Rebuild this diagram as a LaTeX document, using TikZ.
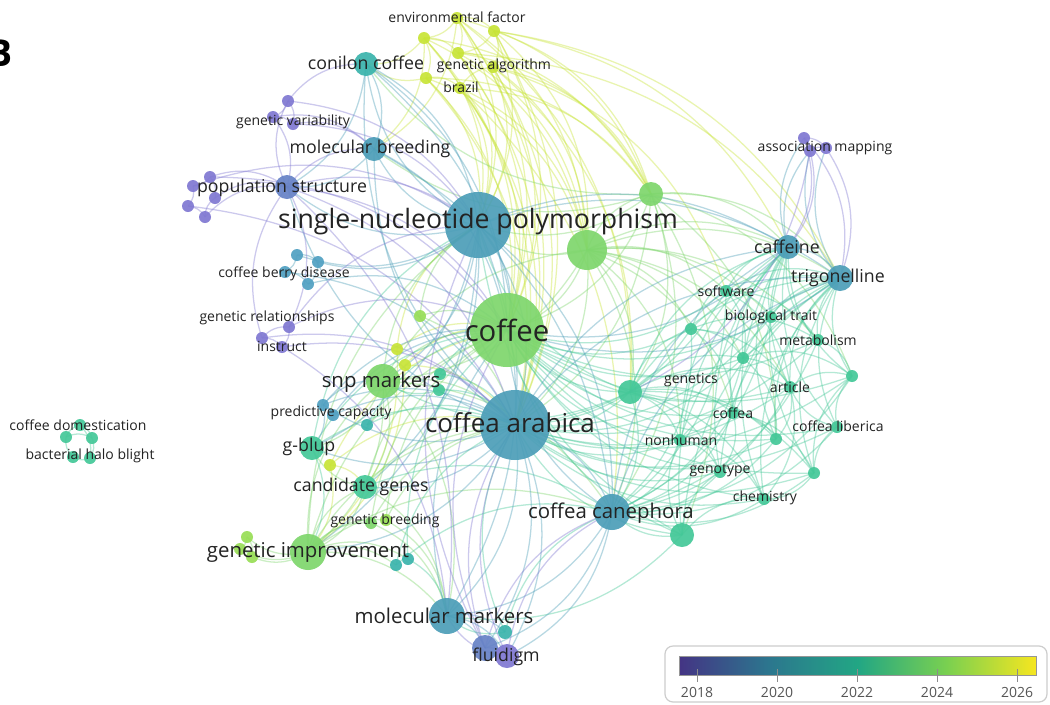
\documentclass[tikz,border=0pt]{standalone}
\usepackage{fontspec}
\setmainfont{Open Sans}
\usetikzlibrary{backgrounds}
\definecolor{cP}{RGB}{128,120,210}
\definecolor{cPB}{RGB}{102,130,198}
\definecolor{cB}{RGB}{76,158,184}
\definecolor{cBL}{RGB}{80,160,194}
\definecolor{cT}{RGB}{58,180,172}
\definecolor{cTG}{RGB}{68,200,152}
\definecolor{cG}{RGB}{126,214,108}
\definecolor{cGL}{RGB}{152,222,86}
\definecolor{cL}{RGB}{200,228,55}
\definecolor{txt}{RGB}{35,35,35}
\definecolor{v0}{RGB}{68,52,132}
\definecolor{v1}{RGB}{44,118,142}
\definecolor{v2}{RGB}{34,166,132}
\definecolor{v3}{RGB}{122,208,80}
\definecolor{v4}{RGB}{246,230,32}
\pgfdeclarehorizontalshading{viridis}{100bp}{color(0bp)=(v0); color(25bp)=(v0); color(37.5bp)=(v1); color(50bp)=(v2); color(62.5bp)=(v3); color(75bp)=(v4); color(100bp)=(v4)}
\newcommand\VN[5]{\node[vdot={#4}, fill=#5] (#1) at (#2,#3) {};}
\tikzset{
  vdot/.style={circle, inner sep=0pt, minimum size={1.5pt*#1}, fill opacity=0.92, draw=none},
  edge/.style={line width=0.95pt, opacity=0.4},
  lab/.style={text=txt, inner sep=0pt},
  tS/.style={lab, font=\fontsize{10.5}{12}\selectfont},
  tM/.style={lab, font=\fontsize{13.3}{15}\selectfont},
  tL/.style={lab, font=\fontsize{15.3}{17}\selectfont},
  tXL/.style={lab, font=\fontsize{20}{22}\selectfont},
  bnd/.style={bend left=27},
}
\begin{document}
\begin{tikzpicture}[x=0.75pt,y=-0.75pt]
\useasboundingbox (0,0) rectangle (1050,704);
% ---------- nodes ----------
% lime cluster
\VN{ef}{457}{18}{6}{cL}
\VN{la}{424}{38}{6}{cL}
\VN{lb}{494}{31}{6}{cL}
\VN{lc}{458}{53}{6}{cL}
\VN{ld}{426}{78}{6}{cL}
\VN{br}{460}{88}{6}{cL}
\VN{ga}{493}{67}{6}{cL}
% small nodes
\VN{fl1}{485}{648}{13}{cPB}
\VN{fl2}{507}{656}{12}{cP}
\VN{flt}{505}{632}{7}{cT}
\VN{gi1}{247}{537}{6}{cGL}
\VN{gi2}{240}{549}{6}{cGL}
\VN{gi3}{252}{557}{6}{cGL}
\VN{gb1}{371}{523}{6}{cG}
\VN{gb2}{386}{520}{6}{cGL}
\VN{t1}{396}{565}{6}{cT}
\VN{t2}{408}{559}{6}{cT}
\VN{lm}{330}{465}{6}{cL}
\VN{pc1}{323}{405}{6}{cBL}
\VN{pc2}{333}{415}{6}{cBL}
\VN{pc3}{367}{425}{6}{cT}
\VN{s1}{397}{349}{6}{cL}
\VN{s2}{405}{365}{6}{cL}
\VN{s3}{420}{316}{6}{cGL}
\VN{s4}{440}{374}{6}{cTG}
\VN{s5}{439}{390}{6}{cTG}
\VN{gr1}{262}{338}{6}{cP}
\VN{gr2}{289}{327}{6}{cP}
\VN{gr3}{282}{347}{6}{cP}
\VN{cb1}{297}{255}{6}{cBL}
\VN{cb2}{318}{262}{6}{cBL}
\VN{cb3}{285}{272}{6}{cBL}
\VN{cb4}{308}{284}{6}{cBL}
\VN{p1}{210}{177}{6}{cP}
\VN{p2}{193}{186}{6}{cP}
\VN{p3}{215}{198}{6}{cP}
\VN{p4}{188}{206}{6}{cP}
\VN{p5}{205}{217}{6}{cP}
\VN{gv1}{288}{101}{6}{cP}
\VN{gv2}{273}{117}{6}{cP}
\VN{gv3}{293}{124}{6}{cP}
\VN{am1}{804}{138}{6}{cP}
\VN{am2}{810}{151}{6}{cP}
\VN{am3}{826}{148}{6}{cP}
\VN{sw}{726}{291}{6}{cTG}
\VN{bt}{771}{317}{6}{cTG}
\VN{met}{818}{340}{6}{cTG}
\VN{n1}{691}{329}{6}{cTG}
\VN{n2}{743}{358}{6}{cTG}
\VN{n3}{852}{376}{6}{cTG}
\VN{art}{790}{387}{6}{cTG}
\VN{cfa}{733}{413}{6}{cTG}
\VN{lib}{776}{439}{6}{cTG}
\VN{lib2}{837}{427}{6}{cTG}
\VN{n4}{814}{473}{6}{cTG}
\VN{chem}{764}{499}{6}{cTG}
\VN{gty}{720}{472}{6}{cTG}
\VN{nh}{680}{440}{6}{cTG}
\VN{cd1}{66}{437}{6}{cTG}
\VN{cd2}{80}{425}{6}{cTG}
\VN{cd3}{92}{438}{6}{cTG}
\VN{cd4}{73}{457}{6}{cTG}
\VN{cd5}{90}{458}{6}{cTG}
% hubs
\VN{n5}{682}{535}{12}{cTG}
\VN{gen}{630}{392}{12}{cTG}
\VN{caf}{788}{247}{12}{cB}
\VN{tri}{840}{278}{13}{cB}
\VN{g2}{651}{194}{12}{cG}
\VN{g1}{587}{250}{20}{cG}
\VN{cc}{366}{64}{12}{cT}
\VN{mb}{374}{149}{12}{cB}
\VN{ps}{287}{187}{12}{cPB}
\VN{snp}{383}{381}{17}{cG}
\VN{gbl}{312}{448}{12}{cTG}
\VN{cg}{365}{487}{12}{cTG}
\VN{gi}{308}{552}{18}{cG}
\VN{mm}{447}{616}{18}{cB}
\VN{can}{612}{512}{18}{cB}
\VN{spm}{478}{225}{33}{cB}
\VN{ara}{515}{425}{35}{cB}
\VN{cof}{507}{330}{37}{cG}
% ---------- edges ----------
\begin{scope}[on background layer]
\fill[white] (0,0) rectangle (1050,704);
% lime
\foreach \a in {ef,la,lb,lc,ld,br,ga}{\foreach \b in {spm,cof,ara,g1,g2}{\draw[edge,cL] (\a.center) to[bnd] (\b.center);}}
\foreach \a/\b in {ef/la,ef/lb,la/lc,lb/lc,lc/ga,la/ld,ld/br,br/ga,ef/lc,lb/ga,la/cc,ld/cc,la/mb,ef/mb,lb/caf,ga/gen,ef/gen,br/can,lc/tri,s1/cof,s2/cof,s1/spm,s2/ara,lm/ara,lm/gi,lm/cof,s1/gi,s2/gi,lm/cg,ga/sw,lb/tri}{\draw[edge,cL] (\a.center) to[bnd] (\b.center);}
% green
\foreach \a/\L in {g1/{spm,cof,ara,can,gen,caf,tri,sw,art,nh,n1,n2,cfa,g2,snp,met,bt},g2/{cof,spm,ara,gen,caf,can,n5,tri,n3,lib,mb,cc},snp/{spm,cof,ara,cg,gbl,gi,mm,can,g1,pc3},gi/{cof,ara,spm,cg,gb1,gb2,mm,can,snp,gi1,gi2,gi3,t1,t2},cg/{cof,ara,gi,gbl,mm},gb1/{cof,ara,mm},gb2/{cof,ara,mm},s3/{cof,spm,ara},gi1/{gi2,gi3},gi2/{gi3}}{\foreach \b in \L {\draw[edge,cG] (\a.center) to[bnd] (\b.center);}}
% teal-green cluster
\foreach \a in {gen,sw,bt,met,n1,n2,n3,art,cfa,lib,lib2,n4,chem,gty,nh,n5}{\foreach \b in {cof,ara,can,caf,tri}{\draw[edge,cTG] (\a.center) to[bnd] (\b.center);}}
\foreach \a/\b in {gen/n1,gen/n2,gen/cfa,gen/nh,gen/art,gen/gty,gen/n4,gen/chem,gen/lib,sw/bt,sw/n2,sw/art,sw/met,n1/n2,n1/cfa,n1/art,n1/met,n2/met,n2/art,n2/lib,n2/n3,art/n3,art/lib,art/chem,cfa/gty,cfa/lib,cfa/n4,nh/gty,nh/chem,nh/cfa,n4/n3,n4/chem,n4/lib2,met/n3,n5/gty,n5/chem,n5/nh,lib2/n3,lib2/art,gen/spm,gen/snp,n5/spm,n5/mm,t1/ara,t1/can,t2/mm,t2/cof,flt/mm,flt/ara,flt/can,pc3/ara,pc3/cof,s4/cof,s4/ara,s5/snp,s5/ara,cd1/cd2,cd2/cd3,cd3/cd5,cd5/cd4,cd4/cd1,cd1/cd3,cd2/cd5,gbl/cof,gbl/ara,gbl/spm,cg/can,gbl/gi}{\draw[edge,cTG] (\a.center) to[bnd] (\b.center);}
% blue
\foreach \a/\L in {spm/{ara,cof,mb,cc,ps,cb1,cb2,mm,can,caf,tri,gbl,cg,gi,snp},ara/{can,mm,mb,cc,ps,gbl,cg,gi,fl1,fl2,caf,tri,pc1},can/{mm,fl1,fl2,caf,tri,cof},mm/{cof,fl1,fl2,flt},cc/{cof,ara,mb,ps,spm},mb/{cof,ps,can},caf/{tri,am1,am2,cof},tri/{am2,am3,cof},cb1/{cb2,cb3},cb2/{cb4},cb3/{cb4,ara},cb4/{cof},pc1/{pc2,gbl,cof,ara,snp},pc2/{ara,cof}}{\foreach \b in \L {\draw[edge,cB] (\a.center) to[bnd] (\b.center);}}
% purple
\foreach \a/\L in {p1/{p2,p3,ps,cof},p2/{p4,spm},p4/{p5,ara},p5/{p3,ps},p3/{ps},ps/{spm,cof,ara,mb,gv1,gr2,mm},gv1/{gv2,gv3,spm,cc},gv2/{gv3,mb,ps},gv3/{spm,mb},gr1/{gr2,gr3,ps,ara},gr2/{gr3,spm,cof},gr3/{ara,mm},am1/{am2,am3,caf,tri},am2/{am3,caf,gen},am3/{tri},fl1/{fl2,ara,can,cof,spm},fl2/{ara,can,mm}}{\foreach \b in \L {\draw[edge,cP] (\a.center) to[bnd] (\b.center);}}
\end{scope}
% ---------- labels ----------
\node[tS] (Lef) at (457,17) {environmental factor};
\node[tM] (Lcc) at (366,63) {conilon coffee};
\node[tS] (Lga) at (494,66) {genetic algorithm};
\node[tS] (Lbr) at (461,87) {brazil};
\node[tS] (Lgv) at (293,122) {genetic variability};
\node[tM] (Lmb) at (370,149) {molecular breeding};
\node[tS] (Lam) at (825,148) {association mapping};
\node[tM] (Lps) at (282,188) {population structure};
\node[tXL] (Lspm) at (478,222) {single-nucleotide polymorphism};
\node[tM] (Lcaf) at (787,247) {caffeine};
\node[tS] (Lcbd) at (284,274) {coffee berry disease};
\node[tM] (Ltri) at (838,278) {trigonelline};
\node[tS] (Lsw) at (726,291) {software};
\node[tS] (Lbt) at (771,317) {biological trait};
\node[tS] (Lgr) at (267,318) {genetic relationships};
\node[lab, font=\fontsize{22}{24}\selectfont] (Lcof) at (507,330) {coffee};
\node[tS] (Lmet) at (818,340) {metabolism};
\node[tS] (Lins) at (282,346) {instruct};
\node[tL] (Lsnp) at (381,382) {snp markers};
\node[tS] (Lgen) at (691,380) {genetics};
\node[tS] (Lart) at (790,387) {article};
\node[tS] (Lpc) at (331,413) {predictive capacity};
\node[tS] (Lcfa) at (733,413) {coffea};
\node[lab, font=\fontsize{19.5}{21}\selectfont] (Lara) at (510,423) {coffea arabica};
\node[tS] (Lcd) at (78,425) {coffee domestication};
\node[tS] (Llib) at (838,426) {coffea liberica};
\node[tS] (Lnh) at (681,440) {nonhuman};
\node[tM] (Lgbl) at (309,447) {g-blup};
\node[tS] (Lhb) at (90,456) {bacterial halo blight};
\node[tS] (Lgty) at (720,471) {genotype};
\node[tM] (Lcg) at (361,487) {candidate genes};
\node[tS] (Lchem) at (765,498) {chemistry};
\node[tL] (Lcan) at (611,513) {coffea canephora};
\node[tS] (Lgb) at (385,521) {genetic breeding};
\node[tL] (Lgi) at (308,552) {genetic improvement};
\node[tL] (Lmm) at (444,616) {molecular markers};
\node[tM] (Lfl) at (506,657) {fluidigm};
% panel letter (cut by the left edge, as in the reference)
\node[inner sep=0pt, font=\rmfamily\bfseries\fontsize{28}{30}\selectfont, text=black] (B) at (0,53) {B};
% ---------- legend ----------
\draw[draw={rgb,255:red,205;green,205;blue,205}, line width=0.9pt, rounded corners=6pt, fill=white] (665,646) rectangle (1047,702);
\shade[shading=viridis] (679,656) rectangle (1036,675);
\draw[draw={rgb,255:red,150;green,150;blue,150}, line width=0.5pt] (679,656) rectangle (1036,675);
\foreach \x/\y in {697/2018,777/2020,857/2022,937/2024,1017/2026}{
  \draw[draw={rgb,255:red,140;green,140;blue,140}, line width=0.7pt] (\x,669) -- (\x,682);
  \node[lab, text={rgb,255:red,85;green,85;blue,85}, font=\fontsize{10.5}{12}\selectfont] (Y\y) at (\x,692) {\y};
}
\end{tikzpicture}
\end{document}
